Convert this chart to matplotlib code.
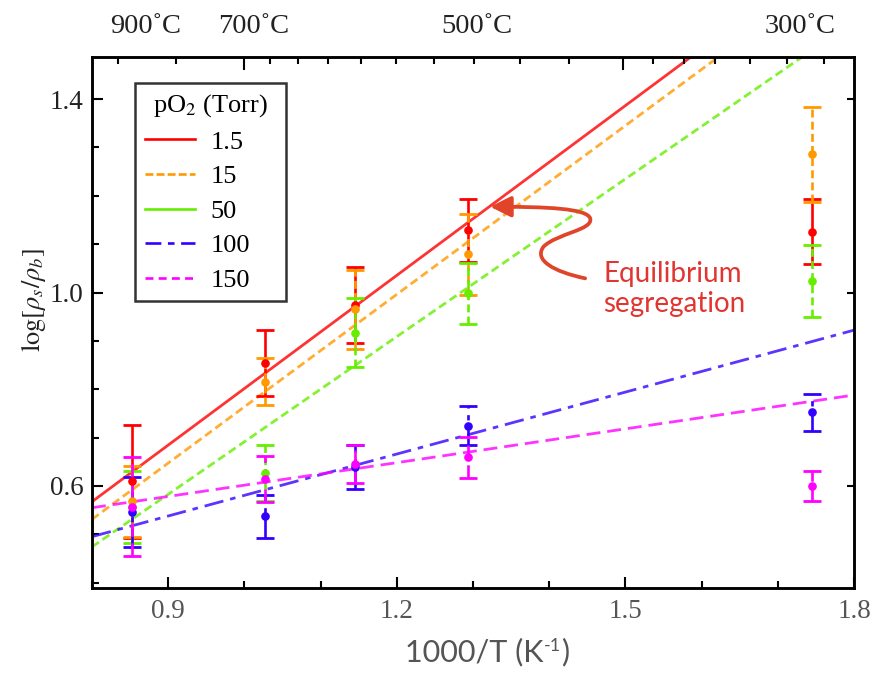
import numpy as np
import matplotlib
matplotlib.use("Agg")
import matplotlib.pyplot as plt
from matplotlib.lines import Line2D
from matplotlib.patches import FancyArrowPatch
from matplotlib.path import Path
from matplotlib.offsetbox import TextArea, HPacker, AnchoredOffsetbox
import matplotlib.transforms as mtransforms

plt.rcParams['mathtext.fontset'] = 'stix'
SERIF = ['Liberation Serif', 'DejaVu Serif']

# annealing temperatures (deg C) -> 1000/T
temps_c = np.array([900, 700, 600, 500, 300])
inv_t = 1000.0 / (temps_c + 273.15)

po2_labels = ['1.5', '15', '50', '100', '150']
colors = ['#ff0000', '#ff9900', '#66ee00', '#3300ff', '#ff00ff']

# log(rho_s/rho_b) and its uncertainty, one list per pO2
log_r_15 = [0.610, 0.854, 0.974, 1.129, 1.126]
err_15 = [0.117, 0.068, 0.078, 0.065, 0.067]
log_r_150 = [0.568, 0.816, 0.965, 1.079, 1.286]
err_150 = [0.074, 0.048, 0.082, 0.084, 0.098]
log_r_50 = [0.557, 0.626, 0.917, 0.998, 1.024]
err_50 = [0.074, 0.058, 0.071, 0.063, 0.075]
log_r_100 = [0.546, 0.537, 0.639, 0.725, 0.752]
err_100 = [0.073, 0.045, 0.045, 0.041, 0.038]
log_r_150b = [0.557, 0.614, 0.645, 0.659, 0.600]
err_150b = [0.102, 0.048, 0.039, 0.043, 0.031]

values = [log_r_15, log_r_150, log_r_50, log_r_100, log_r_150b]
errors = [err_15, err_150, err_50, err_100, err_150b]

# linear fits y = a + b * (1000/T)
fit_slope = [1.170, 1.163, 1.087, 0.427, 0.233]
fit_intercept = [-0.3685, -0.3994, -0.3956, 0.1536, 0.3686]

# line styles: plot dashes and legend dashes
plot_styles = ['-', (0, (3, 1.6)), (0, (3, 1.6)), (0, (7, 2.5, 2, 2.5)), (0, (5, 2.5))]
legend_styles = ['-', (0, (3, 1.2)), '-', (0, (6, 2.5, 2.5, 2.5)), (0, (3, 2))]

# top axis: temperature ticks (deg C)
top_major_c = [727, 395]
top_minor_c = [926, 826, 694, 661, 628, 594, 561, 528, 495, 461, 428,
               378, 361, 345, 328, 311, 295]
top_label_text = ['900˚C', '700˚C', '500˚C', '300˚C']
top_label_pos = [0.870, 1.012, 1.305, 1.729]

fig = plt.figure(figsize=(8.81, 6.73), dpi=100)
ax = fig.add_axes([92/881, 1 - 588/673, (854 - 92)/881, (588 - 57)/673])
ax.set_xlim(0.8, 1.8)
ax.set_ylim(0.389, 1.487)

# fit lines
xfit = np.array([0.8, 1.8])
for a, b, c, ls in zip(fit_intercept, fit_slope, colors, plot_styles):
    ax.plot(xfit, a + b * xfit, color=c, ls=ls, lw=2.0, alpha=0.8, zorder=2)

# measured points with error bars
for y, e, c, ls in zip(values, errors, colors, plot_styles):
    eb = ax.errorbar(inv_t, y, yerr=e, fmt='o', color=c, ms=5.2, elinewidth=1.9,
                     capsize=6.5, capthick=2.0, zorder=3)
    eb[2][0].set_linestyle(ls)

# annotation arrow and text
verts = [(1.4472, 1.0293), (1.4057, 1.0431), (1.3794, 1.0672), (1.3925, 1.0947),
         (1.4100, 1.1223), (1.4582, 1.1292), (1.4538, 1.1533),
         (1.4494, 1.1740), (1.3969, 1.1774), (1.3225, 1.1774)]
codes = [Path.MOVETO] + [Path.CURVE4] * 9
arrow = FancyArrowPatch(path=Path(verts, codes), arrowstyle='-|>,head_length=0.9,head_width=0.45',
                        mutation_scale=14, color='#e0452a', lw=2.7, zorder=4)
ax.add_patch(arrow)
ax.text(1.471, 1.007, 'Equilibrium\nsegregation', color='#e03530', fontsize=20,
        family='Lato', ha='left', va='center', linespacing=1.2)

# ticks
ax.set_xticks([0.9, 1.2, 1.5, 1.8])
ax.set_xticks(np.round(np.arange(0.8, 1.81, 0.1), 2), minor=True)
ax.set_yticks([0.6, 1.0, 1.4])
ax.set_yticks(np.round(np.arange(0.4, 1.45, 0.1), 2), minor=True)
ax.set_xticklabels(['0.9', '1.2', '1.5', '1.8'])
ax.set_yticklabels(['0.6', '1.0', '1.4'])
ax.tick_params(which='both', direction='in', width=1.5, top=False, right=False)
ax.tick_params(which='major', length=8)
ax.tick_params(which='minor', length=5)
ax.tick_params(axis='x', pad=8)
ax.tick_params(axis='y', pad=6)
for lab in ax.get_xticklabels():
    lab.set_family(SERIF)
    lab.set_fontsize(19.5)
    lab.set_color('#555555')
for lab in ax.get_yticklabels():
    lab.set_family(SERIF)
    lab.set_fontsize(19.5)
    lab.set_color('#222222')
for sp in ax.spines.values():
    sp.set_linewidth(1.8)

# right-hand major ticks
right = ax.twinx()
right.set_ylim(ax.get_ylim())
right.set_yticks([0.6, 1.0, 1.4])
right.tick_params(direction='in', length=5, width=1.5, labelright=False)

# top temperature axis
top = ax.twiny()
top.set_xlim(ax.get_xlim())
top.set_xticks(1000.0 / (np.array(top_major_c) + 273.15))
top.set_xticks(1000.0 / (np.array(top_minor_c) + 273.15), minor=True)
top.tick_params(which='both', direction='in', width=1.5, labeltop=False)
top.tick_params(which='major', length=9)
top.tick_params(which='minor', length=5)
for sp in top.spines.values():
    sp.set_linewidth(1.8)
trans = mtransforms.blended_transform_factory(ax.transData, ax.transAxes)
for txt, xp in zip(top_label_text, top_label_pos):
    ax.text(xp, 1.058, txt, transform=trans, ha='center', va='center',
            fontsize=20.5, family=SERIF, color='#222222')

# legend
handles = [Line2D([], [], color=c, ls=ls, lw=1.9) for c, ls in zip(colors, legend_styles)]
leg = ax.legend(handles, po2_labels, title='pO$_2$ (Torr)', loc='upper left',
                bbox_to_anchor=(0.057, 0.951, 0.198, 0.0), mode='expand',
                borderaxespad=0, frameon=True, fancybox=False,
                edgecolor='black', handlelength=1.9, handletextpad=0.6,
                labelspacing=0.42, borderpad=0.35,
                prop={'family': SERIF, 'size': 19},
                title_fontproperties={'family': SERIF, 'size': 19})
leg.get_frame().set_linewidth(1.8)
leg.set_zorder(5)

# axis labels
fig.text(33/881, 1 - 300/673, r'$\mathrm{log}[\rho_s/\rho_b]$', rotation=90,
         ha='center', va='center', fontsize=19, color='#222222')

xlab = HPacker(children=[TextArea('1000/T (K', textprops=dict(fontsize=22, family='Lato', color='#555555')),
                         TextArea('-1', textprops=dict(fontsize=13, family='Lato', color='#555555')),
                         TextArea(')', textprops=dict(fontsize=22, family='Lato', color='#555555'))],
               align='top', pad=0, sep=0)
xbox = AnchoredOffsetbox(loc='center', child=xlab, frameon=False, pad=0, borderpad=0,
                         bbox_to_anchor=(487/881, 1 - 652/673), bbox_transform=fig.transFigure)
fig.add_artist(xbox)

fig.savefig('out.png', dpi=100)
